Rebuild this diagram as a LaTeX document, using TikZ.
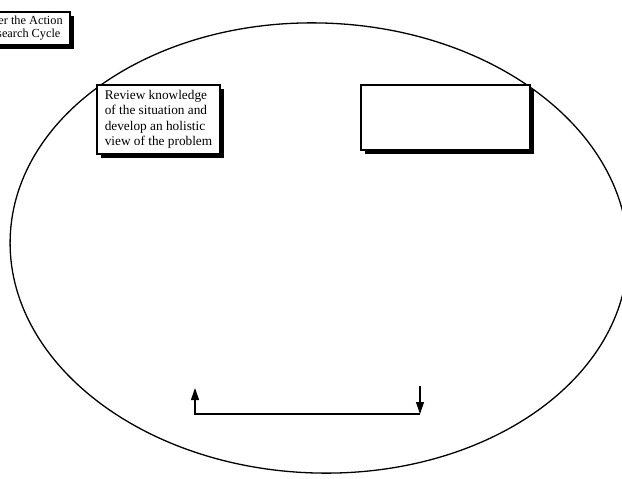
\documentclass[tikz,border=0pt]{standalone}
\usepackage{fontspec}
\setmainfont{Liberation Serif}
\usetikzlibrary{arrows.meta, positioning, shadows}
\definecolor{CycleBlack}{HTML}{000000}
\definecolor{CycleWhite}{HTML}{ffffff}
\tikzset{
    % Node styles - plain boxes with a hard black shadow
    shadowbox/.style={
        rectangle,
        draw=CycleBlack,
        fill=CycleWhite,
        line width=1.1pt,
        drop shadow={fill=CycleBlack, opacity=1, shadow xshift=4pt, shadow yshift=-4pt},
        inner sep=0pt
    },
    startbox/.style={
        shadowbox,
        minimum width=96pt,
        minimum height=33pt,
        align=center,
        font=\fontsize{12.3}{13}\selectfont
    },
    stepbox/.style={
        shadowbox,
        minimum width=123pt,
        minimum height=69pt,
        align=left,
        font=\fontsize{13.3}{15.5}\selectfont
    },
    emptybox/.style={
        shadowbox,
        minimum width=169pt,
        minimum height=65pt
    },
    % Arrow styles
    myarrow/.style={
        -{Triangle[length=12pt, width=8pt]},
        line width=1.1pt,
        CycleBlack
    },
    % Cycle outline
    cycleline/.style={
        draw=CycleBlack,
        line width=1.3pt
    }
}
\begin{document}
\begin{tikzpicture}[x=1pt, y=-1pt]
    \useasboundingbox (0,0) rectangle (622,479);
    \clip (0,0) rectangle (622,479);

    \draw[cycleline, rotate around={-2:(319,248)}] (319,248) ellipse [x radius=309, y radius=225];

    \node[startbox] (enter) at (22,28.5) {Enter the Action\\Research Cycle};
    \node[stepbox] (review) at (158.5,119.5) {Review knowledge\\of the situation and\\develop an holistic\\view of the problem};
    \node[emptybox] (next) at (445.5,117.5) {};

    \coordinate (rtop) at (420,386);
    \coordinate (rbot) at (420,414);
    \coordinate (lbot) at (195,414);
    \coordinate (ltop) at (195,388);

    \draw[myarrow] (rtop) -- (rbot);
    \draw[myarrow] (rbot) -- (lbot) -- (ltop);
\end{tikzpicture}
\end{document}
